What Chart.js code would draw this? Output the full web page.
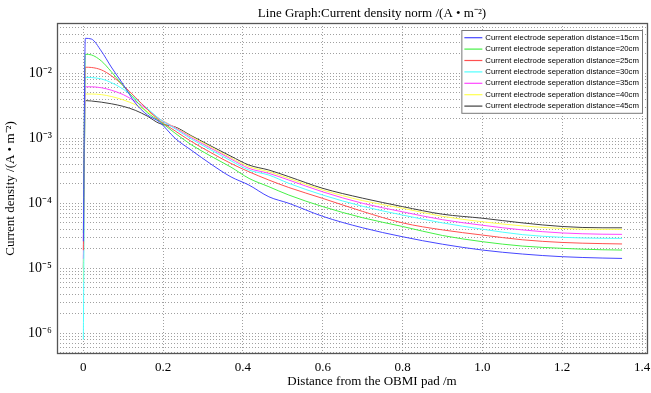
<!DOCTYPE html>
<html>
<head>
<meta charset="utf-8">
<script src="https://cdn.jsdelivr.net/npm/chart.js@4.4.0/dist/chart.umd.min.js"></script>
<style>
  html, body { margin: 0; padding: 0; background: #fff; }
</style>
</head>
<body>
<canvas id="densityChart" width="651" height="393"></canvas>
<script>
// distance from the pad (m)
const distances = [0, 0.005, 0.02, 0.045, 0.07, 0.1, 0.13, 0.16, 0.19, 0.23, 0.27, 0.32, 0.37, 0.415, 0.465, 0.515, 0.6, 0.7, 0.8, 0.9, 1.0, 1.1, 1.2, 1.3, 1.35];

// current density norm (A/m^2) per electrode separation
const cd15 = [2.6e-5, 0.0345, 0.0337, 0.022, 0.0125, 0.0067, 0.0035, 0.0023, 0.0018, 1.0e-3, 6.6e-4, 4.0e-4, 2.55e-4, 1.91e-4, 1.26e-4, 1.0e-4, 6.3e-5, 4.2e-5, 3.06e-5, 2.35e-5, 1.91e-5, 1.66e-5, 1.51e-5, 1.44e-5, 1.42e-5];
const cd20 = [3.5e-5, 0.0196, 0.0192, 0.0155, 0.0106, 0.0064, 0.0039, 0.0025, 0.00185, 1.2e-3, 8.0e-4, 5.3e-4, 3.6e-4, 2.42e-4, 1.8e-4, 1.34e-4, 8.9e-5, 6.0e-5, 4.4e-5, 3.2e-5, 2.57e-5, 2.2e-5, 2.03e-5, 1.93e-5, 1.91e-5];
const cd25 = [1.9e-5, 0.0124, 0.0123, 0.0113, 0.0092, 0.0065, 0.0043, 0.0028, 0.0019, 1.3e-3, 9.0e-4, 6.0e-4, 4.1e-4, 3.06e-4, 2.28e-4, 1.75e-4, 1.19e-4, 7.5e-5, 5.0e-5, 3.9e-5, 3.25e-5, 2.75e-5, 2.5e-5, 2.4e-5, 2.37e-5];
const cd30 = [8e-7, 0.0087, 0.0086, 0.0082, 0.0072, 0.0057, 0.0041, 0.0029, 0.0020, 1.4e-3, 9.8e-4, 6.6e-4, 4.5e-4, 3.25e-4, 2.72e-4, 2.03e-4, 1.34e-4, 9.0e-5, 6.6e-5, 5.0e-5, 4.0e-5, 3.3e-5, 3.0e-5, 2.9e-5, 2.89e-5];
const cd35 = [1.4e-5, 0.0062, 0.0062, 0.0060, 0.0055, 0.0047, 0.0037, 0.0028, 0.0020, 1.45e-3, 1.03e-3, 7.0e-4, 4.8e-4, 3.45e-4, 2.89e-4, 2.28e-4, 1.5e-4, 1.0e-4, 7.4e-5, 5.6e-5, 4.6e-5, 3.9e-5, 3.5e-5, 3.35e-5, 3.33e-5];
const cd40 = [6.2e-6, 0.0048, 0.0048, 0.0047, 0.0044, 0.0039, 0.0033, 0.0026, 0.0020, 1.47e-3, 1.07e-3, 7.3e-4, 5.0e-4, 3.66e-4, 3.06e-4, 2.42e-4, 1.6e-4, 1.1e-4, 8.4e-5, 6.3e-5, 5.2e-5, 4.5e-5, 4.1e-5, 3.98e-5, 3.97e-5];
const cd45 = [1.0e-5, 0.0038, 0.00375, 0.0036, 0.0034, 0.0031, 0.0027, 0.0022, 0.0017, 1.5e-3, 1.1e-3, 7.6e-4, 5.3e-4, 3.88e-4, 3.25e-4, 2.57e-4, 1.7e-4, 1.2e-4, 8.9e-5, 6.8e-5, 5.9e-5, 5.0e-5, 4.4e-5, 4.2e-5, 4.2e-5];

const seriesLabels = [
    'Current electrode seperation distance=15cm',
    'Current electrode seperation distance=20cm',
    'Current electrode seperation distance=25cm',
    'Current electrode seperation distance=30cm',
    'Current electrode seperation distance=35cm',
    'Current electrode seperation distance=40cm',
    'Current electrode seperation distance=45cm'
];
const seriesColors = ['#4646ff', '#46f046', '#ff5050', '#50ffff', '#ff46ff', '#ffff50', '#404040'];
const seriesValues = [cd15, cd20, cd25, cd30, cd35, cd40, cd45];

// tick labels
const xTicks = [0, 0.2, 0.4, 0.6, 0.8, 1.0, 1.2, 1.4];
const yDecades = [-7, -6, -5, -4, -3, -2, -1];

const sup = {'-': '\u207B', '0': '\u2070', '1': '\u00B9', '2': '\u00B2', '3': '\u00B3', '4': '\u2074',
    '5': '\u2075', '6': '\u2076', '7': '\u2077', '8': '\u2078', '9': '\u2079'};
const toSup = (s) => String(s).split('').map(c => sup[c] || c).join('');

// titles sit a little right of the plot centre in the original
const nudge = '\u2007'.repeat(6);

// box around the plot area
const plotFrame = {
    id: 'plotFrame',
    afterDraw(chart) {
        const {ctx, chartArea} = chart;
        ctx.save();
        ctx.strokeStyle = '#555';
        ctx.lineWidth = 1.3;
        ctx.strokeRect(chartArea.left + 0.5, chartArea.top + 0.5, chartArea.width - 1, chartArea.height - 1);
        ctx.restore();
    }
};

// legend box in the upper right corner
const legendBox = {
    id: 'legendBox',
    afterDatasetsDraw(chart) {
        const {ctx, chartArea} = chart;
        const sets = chart.data.datasets;
        ctx.save();
        ctx.font = '7.8px "Liberation Sans", Arial, sans-serif';
        const rowH = 11.4;
        const textW = Math.max(...sets.map(d => ctx.measureText(d.label).width));
        const w = 3 + 18 + 3 + textW + 3;
        const h = rowH * sets.length + 3;
        const x = chartArea.right - 6 - w;
        const y = chartArea.top + 7;
        ctx.fillStyle = '#fff';
        ctx.fillRect(x, y, w, h);
        ctx.strokeStyle = '#777';
        ctx.lineWidth = 1;
        ctx.strokeRect(x + 0.5, y + 0.5, w, h);
        ctx.textBaseline = 'middle';
        sets.forEach((d, i) => {
            const cy = y + 2 + rowH * (i + 0.5);
            ctx.strokeStyle = d.borderColor;
            ctx.lineWidth = 1.2;
            ctx.beginPath();
            ctx.moveTo(x + 3, cy);
            ctx.lineTo(x + 21, cy);
            ctx.stroke();
            ctx.fillStyle = '#000';
            ctx.fillText(d.label, x + 24, cy);
        });
        ctx.restore();
    }
};

const ctx = document.getElementById('densityChart').getContext('2d');

const densityChart = new Chart(ctx, {
    type: 'line',
    data: {
        datasets: seriesValues.map((vals, i) => ({
            label: seriesLabels[i],
            data: vals.map((v, j) => ({x: distances[j], y: v})),
            borderColor: seriesColors[i],
            backgroundColor: seriesColors[i],
            borderWidth: 1,
            pointRadius: 0,
            fill: false,
            cubicInterpolationMode: 'monotone'
        }))
    },
    options: {
        responsive: false,
        animation: false,
        devicePixelRatio: 1,
        layout: { padding: { left: 0, right: 3, top: 0, bottom: 0 } },
        plugins: {
            legend: { display: false },
            tooltip: { enabled: false },
            title: {
                display: true,
                fullSize: false,
                text: nudge + 'Line Graph:Current density norm /(A \u2022 m\u207B\u00B2)',
                color: '#000',
                font: { family: 'Liberation Serif', size: 13, weight: 'normal' },
                padding: { top: 6, bottom: 1.4 }
            }
        },
        scales: {
            x: {
                type: 'linear',
                min: -0.066,
                max: 1.415,
                afterBuildTicks: (scale) => {
                    scale.ticks = xTicks.map(v => ({value: v}));
                },
                afterFit: (scale) => {
                    scale.height = 39;
                    scale.paddingLeft = 0;
                    scale.paddingRight = 0;
                },
                ticks: {
                    color: '#000',
                    padding: 6,
                    maxRotation: 0,
                    autoSkip: false,
                    font: { family: 'Liberation Serif', size: 13 },
                    callback: (v) => v === 0 ? '0' : v.toFixed(1)
                },
                grid: { color: '#a0a0a0', drawTicks: false },
                border: { display: false, dash: [1, 2] },
                title: {
                    display: true,
                    text: nudge + 'Distance from the OBMI pad /m',
                    color: '#000',
                    font: { family: 'Liberation Serif', size: 13 },
                    padding: { top: 0, bottom: 4 }
                }
            },
            y: {
                type: 'logarithmic',
                min: 4.81e-7,
                max: 0.0594,
                afterBuildTicks: (scale) => {
                    const ticks = [];
                    yDecades.forEach(e => {
                        for (let s = 1; s <= 9; s++) {
                            const v = s * Math.pow(10, e);
                            if (v >= scale.min && v <= scale.max) ticks.push({value: v});
                        }
                    });
                    scale.ticks = ticks;
                },
                afterFit: (scale) => {
                    scale.width = 57;
                    scale.paddingTop = 0;
                    scale.paddingBottom = 0;
                },
                ticks: {
                    color: '#000',
                    padding: 5,
                    autoSkip: false,
                    font: { family: 'Liberation Serif', size: 14 },
                    callback: (v) => {
                        const e = Math.round(Math.log10(v));
                        return Math.abs(v / Math.pow(10, e) - 1) < 1e-6 ? '10' + toSup(e) : '';
                    }
                },
                grid: { color: '#a0a0a0', drawTicks: false },
                border: { display: false, dash: [1, 2] },
                title: {
                    display: true,
                    text: 'Current density /(A \u2022 m\u207B\u00B2)',
                    color: '#000',
                    font: { family: 'Liberation Serif', size: 13 },
                    padding: { top: 3, bottom: 0 }
                }
            }
        }
    },
    plugins: [plotFrame, legendBox]
});
</script>
</body>
</html>
